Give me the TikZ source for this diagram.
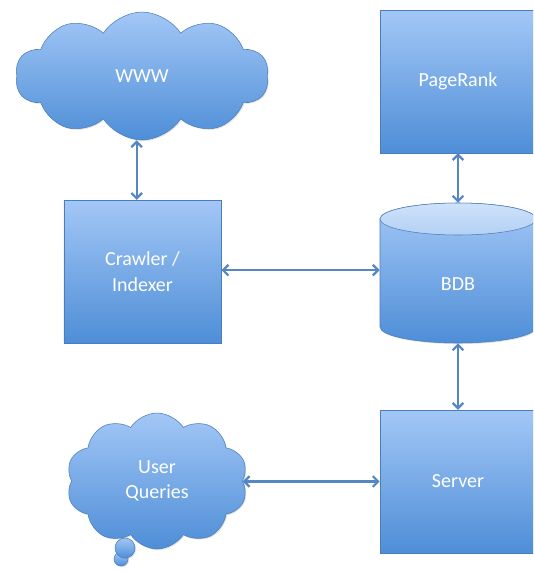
\documentclass[tikz,border=0pt]{standalone}
\usepackage{fontspec}
\setmainfont{Carlito}
\usetikzlibrary{shapes.symbols, arrows.meta, shadows}

\definecolor{boxtop}{HTML}{A3C7F6}
\definecolor{boxbot}{HTML}{4E8ED7}
\definecolor{boxline}{HTML}{4A7EBB}
\definecolor{lidtop}{HTML}{CFE2FA}
\definecolor{lidbot}{HTML}{B3D0F4}
\definecolor{linkclr}{HTML}{5687C4}

\tikzset{
  fill box/.style={top color=boxtop, bottom color=boxbot, draw=boxline, line width=0.4pt,
    drop shadow={opacity=0.25, shadow xshift=0.8pt, shadow yshift=-0.8pt}},
  block/.style={fill box, rectangle, minimum width=117pt, minimum height=107pt,
    text=white, font=\fontsize{15}{19}\selectfont, align=center},
  puff/.style={fill box, cloud, cloud puffs=10, cloud puff arc=115, aspect=2,
    text=white, font=\fontsize{15}{19}\selectfont, align=center},
  label text/.style={text=white, font=\fontsize{15}{19}\selectfont, align=center},
  link/.style={draw=linkclr, line width=1.7pt, {Straight Barb[length=4pt,width=8pt]}-{Straight Barb[length=4pt,width=8pt]}}
}

\begin{document}
\begin{tikzpicture}[x=0.75pt,y=-0.75pt]
  \clip (0,0) rectangle (533,571);

  % left column
  \node[puff, minimum width=190pt, minimum height=96pt] (www) at (142,76) {WWW};
  \node[block, minimum width=118pt] (crawler) at (142.5,271.5) {Crawler /\\Indexer};

  % thought bubbles under the query cloud
  \shade[fill box] (121,559) circle (7);
  \shade[fill box] (125,548) circle (10);
  \node[puff, minimum width=136pt, minimum height=102pt] (queries) at (157,481) {User\\Queries};

  % right column
  \node[block] (pagerank) at (458,81.5) {PageRank};

  % database drum
  \shade[fill box] (380,219) -- (380,327) arc (180:0:78 and 16) -- (536,219) arc (0:-180:78 and 16) -- cycle;
  \shade[top color=lidtop, bottom color=lidbot, draw=boxline, line width=0.4pt] (458,219) ellipse (78 and 16);
  \node[minimum width=117pt, minimum height=105pt, inner sep=0pt] (bdb) at (458,273) {};
  \node[label text] (bdblabel) at (458,284) {BDB};

  \node[block] (server) at (458,481.5) {Server};

  % connectors
  \draw[link] ([xshift=-4pt]www.south) -- ([xshift=-4pt]www.south |- crawler.north);
  \draw[link] (pagerank.south) -- (bdb.north);
  \draw[link] ([yshift=1pt]crawler.east) -- ([yshift=1pt]crawler.east -| bdb.west);
  \draw[link] (bdb.south) -- (server.north);
  \draw[link] (server.west -| queries.east) -- (server.west);
\end{tikzpicture}
\end{document}
